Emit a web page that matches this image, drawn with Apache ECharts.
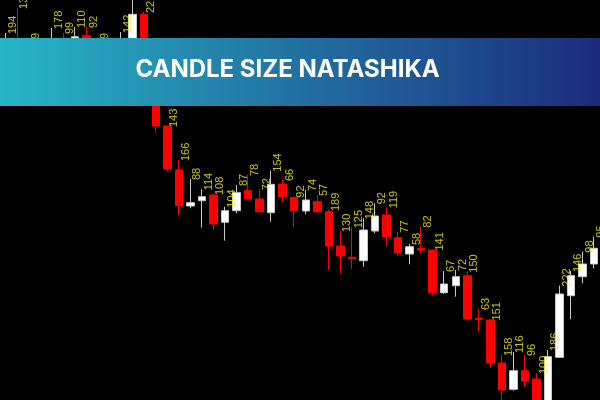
<!DOCTYPE html>
<html><head><meta charset="utf-8">
<script src="https://cdn.jsdelivr.net/npm/echarts@6/dist/echarts.min.js"></script>
<style>html,body{margin:0;padding:0;background:#000}#c{width:600px;height:400px}</style>
</head><body><div id="c"></div>
<script>
// bar numbers (x categories)
const bars = ['1','2','3','4','5','6','7','8','9','10','11','12','13','14','15','16','17','18','19','20','21','22','23','24','25','26',
  '27','28','29','30','31','32','33','34','35','36','37','38','39','40','41','42','43','44','45','46','47','48','49','50','51','52'];
// price values (arbitrary units)
const opens  = [320,355,350,338,320,355,345,364.3,350,335,330,355,385.7,330,274,230,194,199.3,205,177.7,189.3,209.3,201,187.3,216,202.5,
  189,198.3,188.3,154,142.7,139.3,169,185,162.3,146,151.7,150,107.3,114.3,124.3,81.5,80,37,10.7,29.3,21,-10,42.7,104.3,123.3,136];
const closes = [350,330,335,345,355,340,363.3,350,338,342,355,385.7,330,274,231,194.3,197.3,203.3,176,189.3,207.3,201,188.3,215.7,203.3,189.3,
  200,188.3,154,144,141.3,170,184,163.3,147.3,153.3,150,107.3,116,123.3,81,80.5,37,10,29.3,19,-10,43.3,106,124.3,136,151.7];
const lows   = [308,325,328,325,315,335,340,345,332,328,322,350,320,267.3,228.3,185,191.7,172.3,170.7,159.3,186.7,200.7,188,178.3,197.3,173,
  185.7,187.3,130,126.7,131,133.3,166.7,154,144,135.7,146.7,104.3,106,103.3,80,69,32.3,-2,9.3,13.3,-15,-12,42,80.7,116.7,131.7];
const highs  = [367,392,356,350,372,367,373,373,356,345,368,420,388,335,274,240,221,210.7,206,193.3,215,225,210.7,229.3,220,203.3,
  210,205,190,169,172.7,181.7,196.7,192.7,168.3,156,173.3,150.5,129,130,128.3,91,80.5,45,48,45,27,50,114.3,129,148.3,163.3];
// candle size labels
const sizeLabels = ['194','137','89','64','178','99','110','92','79','58','142','186','222','203','143','166','88','114','108','104','87','78',
  '72','154','66','92','74','57','189','130','125','148','92','119','77','58','82','141','67','72','150','63','151','158','116','96','100',
  '186','222','146','98','95'];
const title = 'CANDLE SIZE NATASHIKA';

const chart = echarts.init(document.getElementById('c'), null, {renderer: 'canvas'});
const ohlc = opens.map((o, i) => [o, closes[i], lows[i], highs[i]]);
chart.setOption({
  backgroundColor: '#000',
  animation: false,
  grid: {left: -1, right: -2, top: 0, bottom: 0},
  xAxis: {type: 'category', data: bars, show: false, boundaryGap: true},
  yAxis: {type: 'value', min: 0, max: 400, show: false, splitLine: {show: false}},
  series: [
    {
      type: 'candlestick', data: ohlc, barWidth: 8,
      itemStyle: {color: '#ffffff', color0: '#ff0000', borderColor: '#c8c8c8', borderColor0: '#ff0000', borderWidth: 1}
    },
    {
      type: 'scatter', data: highs.map((h, i) => [i, h]), symbolSize: 1, clip: false, silent: true,
      itemStyle: {color: 'transparent'},
      label: {
        show: true, position: [2, 1.5], rotate: 90, align: 'left', verticalAlign: 'top',
        color: '#f2f22a', fontSize: 11, fontFamily: 'Liberation Sans',
        formatter: p => sizeLabels[p.dataIndex]
      }
    }
  ],
  graphic: [
    {
      type: 'rect', x: 0, y: 38, z: 100,
      shape: {width: 600, height: 68},
      style: {fill: new echarts.graphic.LinearGradient(0, 0, 1, 0, [
        {offset: 0, color: '#27b5c7'}, {offset: 1, color: '#1c2b7c'}])}
    },
    {
      type: 'text', x: 287.5, y: 70, z: 101,
      style: {text: title, fill: '#ffffff', font: 'bold 24px Inter', textAlign: 'center', textVerticalAlign: 'middle'}
    }
  ]
});
</script></body></html>
